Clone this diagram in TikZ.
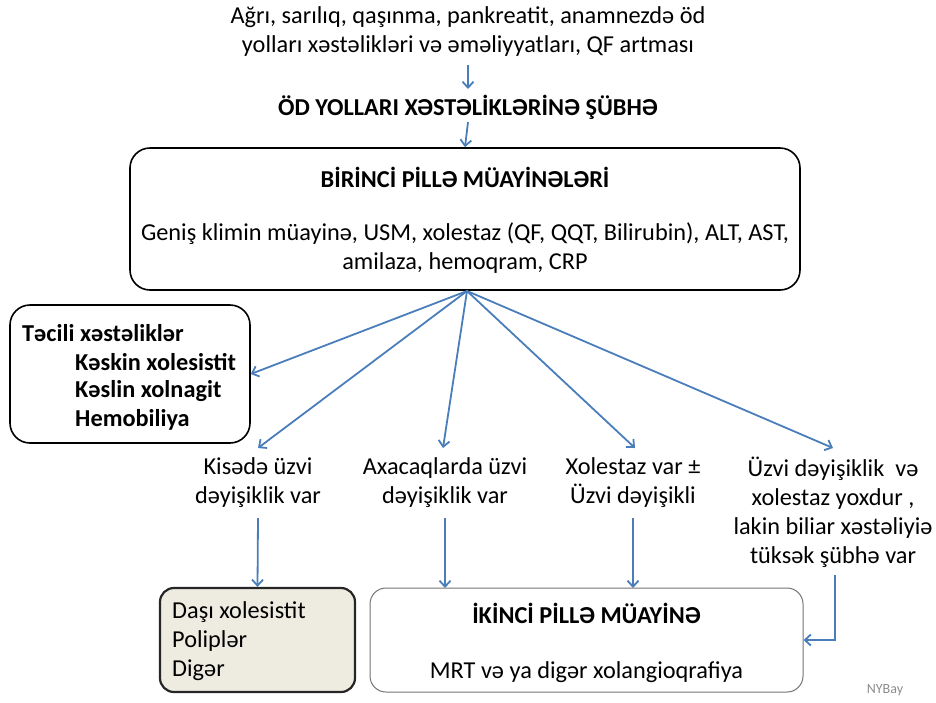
\documentclass[tikz,border=0pt]{standalone}
\usepackage{fontspec}
\setmainfont{Carlito}
\usetikzlibrary{arrows.meta}
\definecolor{arrowblue}{HTML}{4A7EBB}
\definecolor{beige}{HTML}{EEECE1}
\tikzset{
  x=1pt, y=-1pt,
  txt/.style={font=\fontsize{24.3}{29}\selectfont, inner sep=0pt, align=center},
  btxt/.style={txt, font=\fontsize{24.3}{29}\selectfont\bfseries},
  conn/.style={draw=arrowblue, line width=1.8pt, -{Straight Barb[length=6pt,width=11pt,line width=1.8pt]}},
  frame/.style={draw=black, line width=1.6pt, rounded corners=20pt, inner sep=0pt}
}
\begin{document}
\begin{tikzpicture}
\useasboundingbox (0,0) rectangle (936,702);
% top text
\node[txt] (top) at (468,32) {Ağrı, sarılıq, qaşınma, pankreatit, anamnezdə öd\\yolları xəstəlikləri və əməliyyatları, QF artması};
\node[btxt] (sus) at (468,107) {ÖD YOLLARI XƏSTƏLİKLƏRİNƏ ŞÜBHƏ};
% first stage box
\node[frame, minimum width=670pt, minimum height=142pt] (b1) at (465,219) {};
\node[btxt] (b1t) at (465,177) {BİRİNCİ PİLLƏ MÜAYİNƏLƏRİ};
\node[txt] (b1x) at (465,248) {Geniş klimin müayinə, USM, xolestaz (QF, QQT, Bilirubin), ALT, AST,\\amilaza, hemoqram, CRP};
% left emergency box
\node[frame, minimum width=240pt, minimum height=138pt] (lb) at (130,374) {};
\node[btxt, anchor=west, align=left] (lb1) at (22,333) {Təcili xəstəliklər};
\node[btxt, anchor=west, align=left] (lb2) at (75,362) {Kəskin xolesistit};
\node[btxt, anchor=west, align=left] (lb3) at (75,391) {Kəslin xolnagit};
\node[btxt, anchor=west, align=left] (lb4) at (75,420) {Hemobiliya};
% middle texts
\node[txt, anchor=north] (kis) at (258,457) {Kisədə üzvi\\dəyişiklik var};
\node[txt, anchor=north] (axa) at (445,457) {Axacaqlarda üzvi\\dəyişiklik var};
\node[txt, anchor=north] (xol) at (633,457) {Xolestaz var ±\\Üzvi dəyişikli};
\node[txt, anchor=north] (uzv) at (833,457) {Üzvi dəyişiklik \ və\\xolestaz yoxdur ,\\lakin biliar xəstəliyiə\\tüksək şübhə var};
% bottom boxes
\node[draw=black!85, fill=beige, line width=2.2pt, rounded corners=14pt, minimum width=195pt, minimum height=104pt, inner sep=0pt] (das) at (257.5,640) {};
\node[txt, anchor=west, align=left] (das1) at (172,612) {Daşı xolesistit};
\node[txt, anchor=west, align=left] (das2) at (172,641) {Poliplər};
\node[txt, anchor=west, align=left] (das3) at (172,670) {Digər};
\node[draw=black!55, line width=1pt, rounded corners=16pt, minimum width=433pt, minimum height=104pt, inner sep=0pt] (ik) at (586.5,640) {};
\node[btxt] (ikt) at (586.5,613) {İKİNCİ PİLLƏ MÜAYİNƏ};
\node[txt] (ikx) at (586.5,672) {MRT və ya digər xolangioqrafiya};
\node[font=\fontsize{14}{16}\selectfont, text=black!45, inner sep=0pt] (nyb) at (885,690) {NYBay};
% connectors
\coordinate (a1) at (468,65);
\coordinate (a2) at (468,89);
\coordinate (a3) at (468,122);
\draw[conn] (a1) -- (a2);
\draw[conn] (a3) -- (b1.north);
\coordinate (fan) at (467,291);
\draw[conn] (fan) -- (lb.east);
\draw[conn] (fan) -- (258,448);
\draw[conn] (fan) -- (443,448);
\draw[conn] (fan) -- (635,448);
\draw[conn] (fan) -- (833,448);
\draw[conn] (258,518) -- (das.north);
\draw[conn] (445,518) -- (445,588);
\draw[conn] (633,518) -- (633,588);
\draw[conn] (835,575) |- (ik.east);
\end{tikzpicture}
\end{document}
